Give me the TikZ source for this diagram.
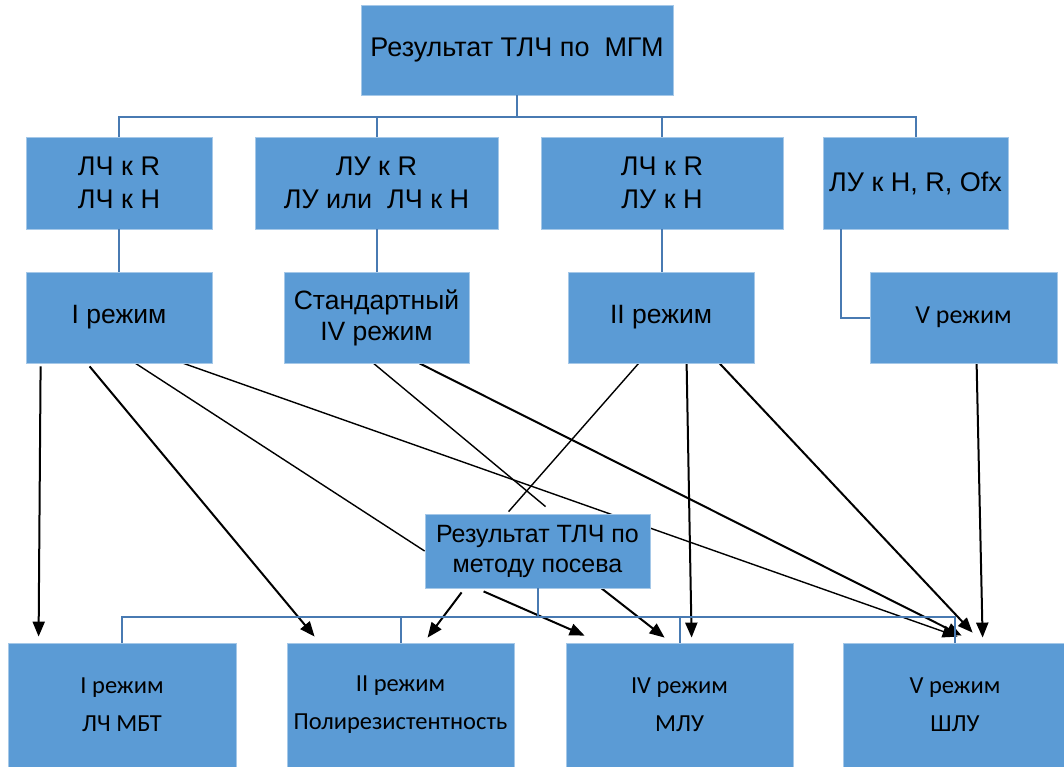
\documentclass[tikz,border=0pt]{standalone}
\usepackage{fontspec}
\setmainfont{Liberation Sans}
\newfontfamily\calibri{Carlito}
\usepackage{xcolor}
\definecolor{boxblue}{RGB}{91,155,213}
\definecolor{linkblue}{RGB}{72,122,178}
\usepackage{tikz}
\usetikzlibrary{arrows.meta, backgrounds}
\tikzstyle{box} = [
    rectangle, align=center,
    fill=boxblue,
    draw=boxblue!55!white,
    line width=0.8pt,
    inner sep=2pt,
]
\tikzstyle{res} = [
    box,
    minimum height=92pt,
    font=\fontsize{27}{33}\selectfont,
]
\tikzstyle{mode} = [
    box,
    minimum height=91pt,
    font=\fontsize{26.5}{31}\selectfont,
]
\tikzstyle{final} = [
    box,
    minimum width=227pt,
    minimum height=124pt,
    font=\calibri\fontsize{24.5}{38}\selectfont,
]
\tikzstyle{link} = [draw=linkblue, line width=2pt]
\tikzstyle{plain} = [line width=1.4pt]
\tikzstyle{arrow} = [-{Triangle[length=15pt,width=12pt]}, line width=2pt]

\begin{document}
\begin{tikzpicture}[x=1pt, y=-1pt]
    \useasboundingbox (0,0) rectangle (1064,767);

    % boxes
    \node (mgm) at (517,50) [box, minimum width=312pt, minimum height=90pt,
        font=\fontsize{27}{30}\selectfont] {Результат ТЛЧ по~~МГМ};

    \node (res1) at (119,183) [res, minimum width=186pt] {ЛЧ к R\\ЛЧ к Н};
    \node (res2) at (376.5,183) [res, minimum width=243pt] {ЛУ к R\\ЛУ или~ ЛЧ к Н};
    \node (res3) at (662,183) [res, minimum width=242pt] {ЛЧ к R\\ЛУ к Н};
    \node (res4) at (915.5,183) [res, minimum width=185pt] {ЛУ к Н, R, Ofx};

    \node (mode1) at (119,317.5) [mode, minimum width=186pt] {I режим};
    \node (mode2) at (376.5,317.5) [mode, minimum width=185pt] {Стандартный\\IV режим};
    \node (mode3) at (661,317.5) [mode, minimum width=186pt] {II режим};
    \node (mode4) at (963.5,317.5) [mode, minimum width=187pt, font=\calibri\fontsize{26}{30}\selectfont] {V режим};

    \node (sow) at (537.5,551) [box, minimum width=225pt, minimum height=74pt,
        font=\fontsize{25}{30}\selectfont] {Результат ТЛЧ по\\методу посева};

    \node (final1) at (122,705) [final, minimum width=228pt] {I режим\\ЛЧ МБТ};
    \node (final2) at (400.5,705) [final] {II режим\\Полирезистентность};
    \node (final3) at (679.5,705) [final] {IV режим\\МЛУ};
    \node (final4) at (955,705) [final, minimum width=224pt] {V режим\\ШЛУ};

    % tree links
    \draw [link] (mgm.south) -- ++(0,22) coordinate (hub);
    \foreach \n in {1,...,4} {
        \draw [link] (hub) -| (res\n.north);
    }
    \foreach \n in {1,2,3} {
        \draw [link] (res\n.south) -- (res\n.south |- mode\n.north);
    }
    \draw [link] ([xshift=18pt]res4.south west) |- (mode4.west);

    \draw [link] (sow.south) -- ++(0,29) coordinate (hub2);
    \foreach \n in {1,...,4} {
        \draw [link] (hub2) -| (final\n.north);
    }

    % arrows
    \begin{scope}[on background layer]
        \draw [arrow] ([xshift=15pt,yshift=-3pt]mode1.south west) -- ([xshift=31pt,yshift=6pt]final1.north west);
        \draw [arrow] ([xshift=64pt,yshift=-3pt]mode1.south west) -- ([xshift=28pt,yshift=6pt]final2.north west);
        \draw [plain] ([xshift=110pt]mode1.south west) -- (sow.west);
        \draw [arrow, plain] ([xshift=158pt]mode1.south west) -- ([xshift=115pt,yshift=6pt]final4.north west);

        \draw [plain] ([xshift=90pt]mode2.south west) -- ([xshift=121pt,yshift=7pt]sow.north west);
        \draw [arrow] ([xshift=136pt]mode2.south west) -- ([xshift=119pt,yshift=7pt]final4.north west);

        \draw [plain] ([xshift=71pt]mode3.south west) -- ([xshift=84pt,yshift=2pt]sow.north west);
        \draw [arrow] ([xshift=119pt]mode3.south west) -- ([xshift=126pt,yshift=5pt]final3.north west);
        \draw [arrow] ([xshift=152pt]mode3.south west) -- ([xshift=130pt,yshift=10pt]final4.north west);

        \draw [arrow] ([xshift=107pt]mode4.south west) -- ([xshift=140pt,yshift=5pt]final4.north west);

        \draw [arrow] ([xshift=37pt,yshift=-4pt]sow.south west) -- ([xshift=141pt,yshift=5pt]final2.north west);
        \draw [arrow] ([xshift=59pt,yshift=-3pt]sow.south west) -- ([xshift=19pt,yshift=7pt]final3.north west);
        \draw [arrow] ([xshift=177pt]sow.south west) -- ([xshift=99pt,yshift=5pt]final3.north west);
    \end{scope}

\end{tikzpicture}
\end{document}
